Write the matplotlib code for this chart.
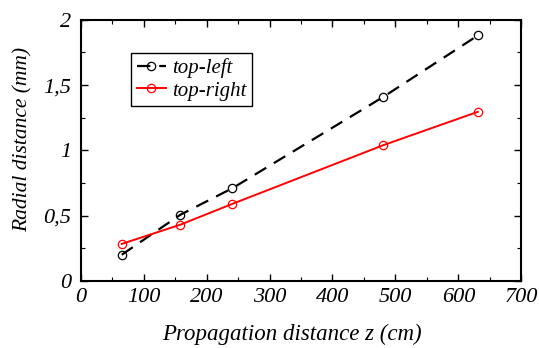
import matplotlib
matplotlib.use("Agg")
import matplotlib.pyplot as plt
from matplotlib.ticker import MultipleLocator, FuncFormatter

z = [65, 158, 241, 481, 631]
top_left = [0.20, 0.506, 0.71, 1.41, 1.88]
top_right = [0.283, 0.43, 0.59, 1.04, 1.295]

plt.rcParams['font.family'] = ['Liberation Serif', 'DejaVu Serif']
plt.rcParams['font.style'] = 'italic'

fig = plt.figure(figsize=(5.39, 3.48), dpi=100)
ax = fig.add_axes([0.150, 0.193, 0.817, 0.750])

ax.plot(z, top_left, color='black', linestyle=(0, (6, 4)), linewidth=1.6,
        marker='o', markersize=6, markerfacecolor='none', markeredgecolor='black',
        markeredgewidth=0.9, label='top-left')
ax.plot(z, top_right, color='red', linestyle='-', linewidth=1.4,
        marker='o', markersize=6, markerfacecolor='none', markeredgecolor='red',
        markeredgewidth=0.9, label='top-right')

ax.set_xlim(0, 700)
ax.set_ylim(0, 2)
ax.xaxis.set_major_locator(MultipleLocator(100))
ax.xaxis.set_minor_locator(MultipleLocator(50))
ax.yaxis.set_major_locator(MultipleLocator(0.5))
ax.yaxis.set_minor_locator(MultipleLocator(0.25))
ax.yaxis.set_major_formatter(FuncFormatter(lambda v, p: ('%g' % v).replace('.', ',')))
ax.tick_params(which='both', direction='in', top=True, right=True, labelsize=16)
ax.tick_params(which='major', length=5, width=1)
ax.tick_params(which='minor', length=3, width=0.8)
ax.tick_params(axis='x', which='major', pad=5)
ax.tick_params(axis='y', which='major', pad=7)
for s in ax.spines.values():
    s.set_linewidth(1.5)

ax.set_xlabel('Propagation distance z (cm)', fontsize=16.5)
ax.set_ylabel('Radial distance (mm)', fontsize=15.5)
ax.xaxis.set_label_coords(0.48, -0.165)
ax.yaxis.set_label_coords(-0.11, 0.54)

leg = ax.legend(loc='upper left', bbox_to_anchor=(0.115, 0.874), fontsize=15,
                frameon=True, fancybox=False, edgecolor='black', framealpha=1,
                handlelength=1.4, handletextpad=0.3, borderpad=0.25,
                labelspacing=0.15, borderaxespad=0)
leg.get_frame().set_linewidth(1.0)

fig.savefig('out.png', dpi=100)
